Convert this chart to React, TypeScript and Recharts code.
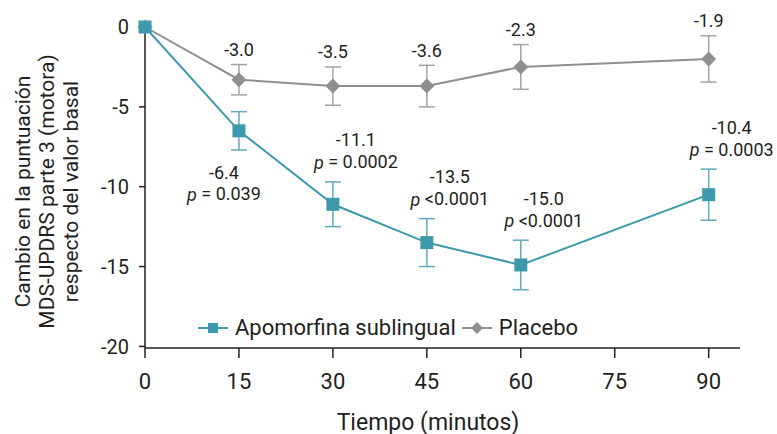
import React from 'react'
import {
  LineChart,
  Line,
  XAxis,
  YAxis,
  ErrorBar,
  LabelList,
  Label,
} from 'recharts'

// values
const times = [0, 15, 30, 45, 60, 90]
const apoMean = [0, -6.5, -11.1, -13.5, -14.9, -10.5]
const apoErr = [0, 1.2, 1.4, 1.5, 1.55, 1.6]
const plaMean = [0, -3.3, -3.7, -3.7, -2.5, -2.0]
const plaErr = [0, 0.95, 1.2, 1.3, 1.4, 1.45]

const plaLabels = ['', '-3.0', '-3.5', '-3.6', '-2.3', '-1.9']
const apoLabels = ['', '-6.4', '-11.1', '-13.5', '-15.0', '-10.4']
const apoP = ['', '= 0.039', '= 0.0002', '<0.0001', '<0.0001', '= 0.0003']

const xTicks = [0, 15, 30, 45, 60, 75, 90]
const yTicks = [0, -5, -10, -15, -20]

const data = times.map((t, i) => ({
  t,
  apo: apoMean[i],
  apoErr: apoErr[i],
  pla: plaMean[i],
  plaErr: plaErr[i],
  plaLabel: plaLabels[i],
  apoLabel: apoLabels[i],
  apoP: apoP[i],
}))

const TEAL = '#3d99ac'
const TEAL_ERR = '#5fabbb'
const GREY = '#8f8f8f'
const GREY_ERR = '#a3a3a3'
const INK = '#231f20'
const FONT = 'Roboto, sans-serif'
const LABEL_SIZE = 18

// the 15-minute label of the active arm sits under its point
const BELOW_T = 15

const Square = (props: any) => {
  const { cx, cy } = props
  if (cx == null || cy == null) return null
  return <rect x={cx - 6.5} y={cy - 6.5} width={13} height={13} fill={TEAL} />
}

const Diamond = (props: any) => {
  const { cx, cy } = props
  if (cx == null || cy == null) return null
  const r = 7.5
  return (
    <polygon
      points={`${cx},${cy - r} ${cx + r},${cy} ${cx},${cy + r} ${cx - r},${cy}`}
      fill={GREY}
    />
  )
}

const PValue = ({ x, y, text }: { x: number; y: number; text: string }) => (
  <text x={x} y={y} textAnchor="middle" dominantBaseline="central" fontSize={LABEL_SIZE} fill={INK} fontFamily={FONT}>
    <tspan fontStyle="italic">p</tspan>
    {' ' + text}
  </text>
)

const apoAbove = (props: any) => {
  const { x, y, index } = props
  const d = data[index]
  if (!d || !d.apoLabel || d.t === BELOW_T) return null
  const cx = x + 23
  return (
    <g>
      <text x={cx} y={y - 42} textAnchor="middle" dominantBaseline="central" fontSize={LABEL_SIZE} fill={INK} fontFamily={FONT}>
        {d.apoLabel}
      </text>
      <PValue x={cx} y={y - 20} text={d.apoP} />
    </g>
  )
}

const apoBelow = (props: any) => {
  const { x, y, index } = props
  const d = data[index]
  if (!d || !d.apoLabel || d.t !== BELOW_T) return null
  const cx = x - 15
  return (
    <g>
      <text x={cx} y={y + 23} textAnchor="middle" dominantBaseline="central" fontSize={LABEL_SIZE} fill={INK} fontFamily={FONT}>
        {d.apoLabel}
      </text>
      <PValue x={cx} y={y + 44} text={d.apoP} />
    </g>
  )
}

const plaAbove = (props: any) => {
  const { x, y, value } = props
  if (!value) return null
  return (
    <text x={x} y={y - 15} textAnchor="middle" dominantBaseline="central" fontSize={LABEL_SIZE} fill={INK} fontFamily={FONT}>
      {value}
    </text>
  )
}

const YTitle = (props: any) => {
  const vb = props.viewBox || { y: 27, height: 322 }
  const cy = vb.y + vb.height / 2 + 4
  const lines = ['Cambio en la puntuación', 'MDS-UPDRS parte 3 (motora)', 'respecto del valor basal']
  const xs = [23, 47, 71]
  return (
    <g>
      {lines.map((l, i) => (
        <text
          key={l}
          x={xs[i]}
          y={cy}
          transform={`rotate(-90 ${xs[i]} ${cy})`}
          textAnchor="middle"
          dominantBaseline="central"
          fontSize={21}
          fill={INK}
          fontFamily={FONT}
        >
          {l}
        </text>
      ))}
    </g>
  )
}

const XTitle = () => (
  <text x={428} y={422} textAnchor="middle" dominantBaseline="central" fontSize={23} fill={INK} fontFamily={FONT}>
    Tiempo (minutos)
  </text>
)

const LegendBox = () => (
  <div
    style={{
      position: 'absolute',
      left: 198,
      top: 315,
      display: 'flex',
      alignItems: 'center',
      fontFamily: FONT,
      fontSize: 22,
      color: INK,
      lineHeight: '26px',
    }}
  >
    <svg width={30} height={26} style={{ marginRight: 7 }}>
      <line x1={0} y1={13} x2={30} y2={13} stroke={TEAL} strokeWidth={2} />
      <rect x={10} y={8} width={10} height={10} fill={TEAL} />
    </svg>
    <span>Apomorfina sublingual</span>
    <svg width={30} height={26} style={{ marginLeft: 6, marginRight: 7 }}>
      <line x1={0} y1={13} x2={30} y2={13} stroke={GREY} strokeWidth={2} />
      <polygon points="15,7 21,13 15,19 9,13" fill={GREY} />
    </svg>
    <span>Placebo</span>
  </div>
)

const App: React.FC = () => {
  return (
    <div style={{ position: 'absolute', left: 0, top: 0, width: 777, height: 434, background: '#fff' }}>
      <LineChart width={777} height={434} data={data} margin={{ top: 27, right: 37, bottom: 0, left: 0 }}>
        <XAxis
          dataKey="t"
          type="number"
          domain={[0, 95]}
          ticks={xTicks}
          height={86}
          tickSize={10}
          tickMargin={15}
          axisLine={{ stroke: INK, strokeWidth: 1.5 }}
          tickLine={{ stroke: INK, strokeWidth: 1.5 }}
          tick={{ fill: INK, fontSize: 22, fontFamily: FONT }}
        >
          <Label content={<XTitle />} />
        </XAxis>
        <YAxis
          type="number"
          domain={[-20.1, 0]}
          ticks={yTicks}
          width={145}
          tickSize={6}
          tickMargin={10}
          axisLine={{ stroke: INK, strokeWidth: 1.5 }}
          tickLine={{ stroke: INK, strokeWidth: 1.5 }}
          tick={{ fill: INK, fontSize: 20, fontFamily: FONT }}
        >
          <Label content={<YTitle />} />
        </YAxis>

        <Line
          dataKey="pla"
          stroke={GREY}
          strokeWidth={2}
          dot={<Diamond />}
          activeDot={false}
          isAnimationActive={false}
        >
          <ErrorBar dataKey="plaErr" direction="y" width={8} stroke={GREY_ERR} strokeWidth={1.5} />
        </Line>
        <Line
          dataKey="apo"
          stroke={TEAL}
          strokeWidth={2}
          dot={<Square />}
          activeDot={false}
          isAnimationActive={false}
        >
          <ErrorBar dataKey="apoErr" direction="y" width={8} stroke={TEAL_ERR} strokeWidth={1.5} />
        </Line>

        {/* invisible helpers at the error bar ends, used to place the value labels */}
        <Line
          dataKey={(d: any) => d.pla + d.plaErr}
          stroke="none"
          dot={false}
          activeDot={false}
          isAnimationActive={false}
        >
          <LabelList dataKey="plaLabel" content={plaAbove} />
        </Line>
        <Line
          dataKey={(d: any) => d.apo + d.apoErr}
          stroke="none"
          dot={false}
          activeDot={false}
          isAnimationActive={false}
        >
          <LabelList dataKey="apoLabel" content={apoAbove} />
        </Line>
        <Line
          dataKey={(d: any) => d.apo - d.apoErr}
          stroke="none"
          dot={false}
          activeDot={false}
          isAnimationActive={false}
        >
          <LabelList dataKey="apoLabel" content={apoBelow} />
        </Line>
      </LineChart>
      <LegendBox />
    </div>
  )
}

export default App
